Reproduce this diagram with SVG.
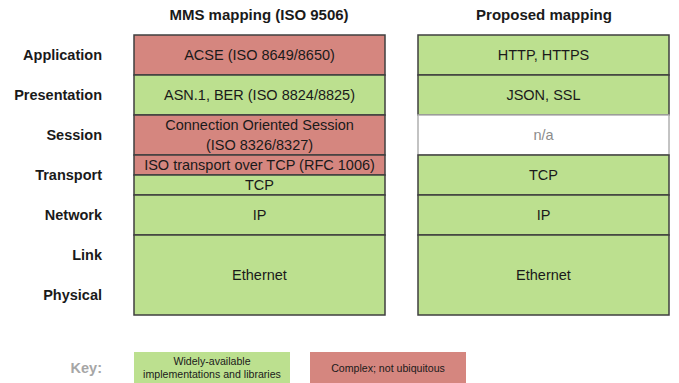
<svg xmlns="http://www.w3.org/2000/svg" width="679" height="383" viewBox="0 0 679 383">
<style>
text{font-family:"Liberation Sans",Arial,sans-serif;fill:#1a1a1a}
.lbl{font-size:14.5px;font-weight:bold;text-anchor:end}
.hdr{font-size:15px;font-weight:bold;text-anchor:middle}
.t{font-size:14.5px;text-anchor:middle}
.k{font-size:10.6px;text-anchor:middle}
.g{fill:#BCE08F;stroke:#3f3f3f;stroke-width:1.5}
.r{fill:#D5867F;stroke:#3f3f3f;stroke-width:1.5}
.w{fill:#ffffff;stroke:#b0b0b0;stroke-width:1.5}
</style>
<rect width="679" height="383" fill="#ffffff"/>
<g id="headers">
<text class="hdr" x="259" y="20">MMS mapping (ISO 9506)</text>
<text class="hdr" x="544" y="20">Proposed mapping</text>
</g>
<g id="layer-labels">
<text class="lbl" x="102" y="60">Application</text>
<text class="lbl" x="102" y="100">Presentation</text>
<text class="lbl" x="102" y="140">Session</text>
<text class="lbl" x="102" y="180">Transport</text>
<text class="lbl" x="102" y="220">Network</text>
<text class="lbl" x="102" y="260">Link</text>
<text class="lbl" x="102" y="300">Physical</text>
</g>
<g id="mms-acse"><rect class="r" x="134" y="35" width="251" height="40"/><text class="t" x="259.5" y="60">ACSE (ISO 8649/8650)</text></g>
<g id="mms-asn1"><rect class="g" x="134" y="75" width="251" height="40"/><text class="t" x="259.5" y="100">ASN.1, BER (ISO 8824/8825)</text></g>
<g id="mms-session"><rect class="r" x="134" y="115" width="251" height="40"/><text class="t" x="259.5" y="130">Connection Oriented Session</text><text class="t" x="259.5" y="150">(ISO 8326/8327)</text></g>
<g id="mms-isotp"><rect class="r" x="134" y="155" width="251" height="20"/><text class="t" x="259.5" y="170">ISO transport over TCP (RFC 1006)</text></g>
<g id="mms-tcp"><rect class="g" x="134" y="175" width="251" height="20"/><text class="t" x="259.5" y="190">TCP</text></g>
<g id="mms-ip"><rect class="g" x="134" y="195" width="251" height="40"/><text class="t" x="259.5" y="220">IP</text></g>
<g id="mms-ethernet"><rect class="g" x="134" y="235" width="251" height="80"/><text class="t" x="259.5" y="280">Ethernet</text></g>
<g id="prop-http"><rect class="g" x="418" y="35" width="251" height="40"/><text class="t" x="543.5" y="60">HTTP, HTTPS</text></g>
<g id="prop-json"><rect class="g" x="418" y="75" width="251" height="40"/><text class="t" x="543.5" y="100">JSON, SSL</text></g>
<g id="prop-session"><rect class="w" x="418" y="115" width="251" height="40"/><text class="t" x="543.5" y="140" style="fill:#8c8c8c">n/a</text></g>
<g id="prop-tcp"><rect class="g" x="418" y="155" width="251" height="40"/><text class="t" x="543.5" y="180">TCP</text></g>
<g id="prop-ip"><rect class="g" x="418" y="195" width="251" height="40"/><text class="t" x="543.5" y="220">IP</text></g>
<g id="prop-ethernet"><rect class="g" x="418" y="235" width="251" height="80"/><text class="t" x="543.5" y="280">Ethernet</text></g>
<g id="connectors"></g>
<g id="key">
<text class="lbl" x="102" y="373" style="fill:#a6a6a6">Key:</text>
<rect x="134" y="352" width="156" height="31" fill="#BCE08F"/>
<text class="k" x="212" y="365">Widely-available</text>
<text class="k" x="212" y="378">implementations and libraries</text>
<rect x="310" y="352" width="156" height="31" fill="#D5867F"/>
<text class="k" x="388" y="372">Complex; not ubiquitous</text>
</g>
</svg>
